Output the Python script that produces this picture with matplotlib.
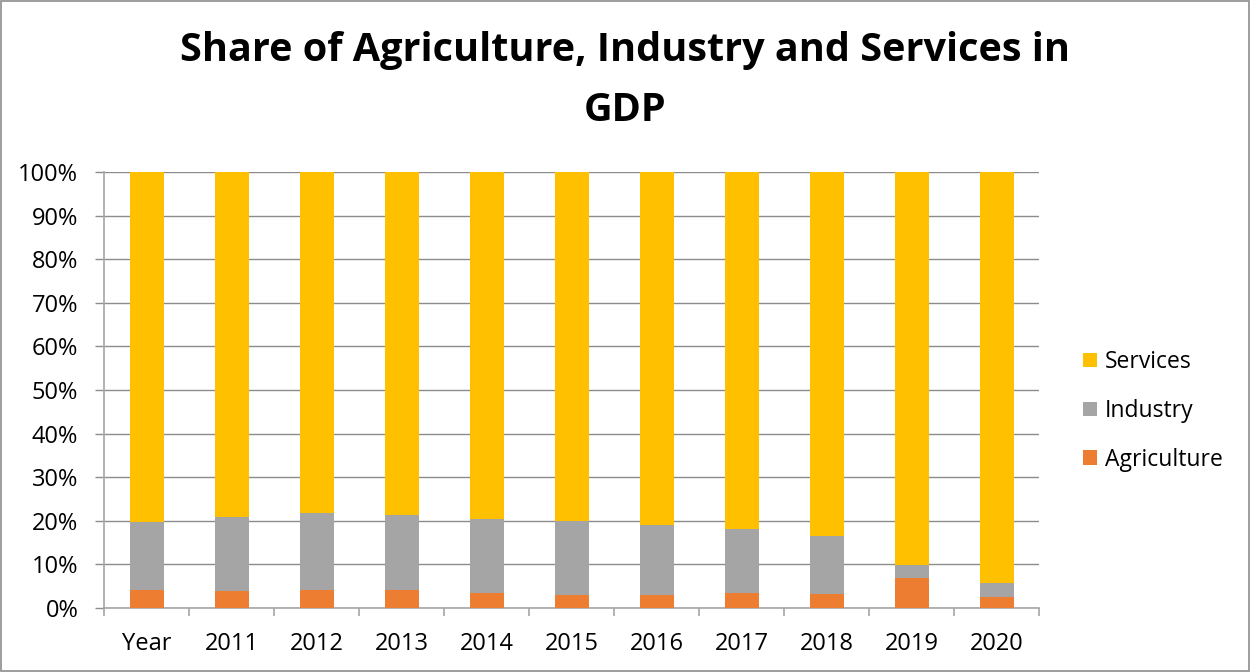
import matplotlib
matplotlib.use("Agg")
import matplotlib.pyplot as plt
from matplotlib.ticker import FuncFormatter, FixedLocator
from matplotlib.patches import Rectangle
import numpy as np

categories = ["Year", "2011", "2012", "2013", "2014", "2015", "2016", "2017", "2018", "2019", "2020"]
agriculture = [4.15, 3.85, 4.15, 4.15, 3.4, 2.9, 2.9, 3.4, 3.15, 6.85, 2.45]
industry = [15.65, 17.05, 17.65, 17.25, 17.0, 17.0, 16.15, 14.7, 13.45, 2.95, 3.25]
services = [100 - a - i for a, i in zip(agriculture, industry)]

colors = {"Services": "#FFC000", "Industry": "#A5A5A5", "Agriculture": "#ED7D31"}
font = ["Open Sans", "DejaVu Sans"]
plt.rcParams["font.family"] = font

fig = plt.figure(figsize=(12.5, 6.72), dpi=100)
fig.patches.append(Rectangle((0.0005, 0.001), 0.999, 0.998, transform=fig.transFigure,
                             fill=False, edgecolor="#8c8c8c", linewidth=1.2))
ax = fig.add_axes([0.0832, 0.0952, 0.748, 0.649])

x = np.arange(len(categories))
w = 0.4
b1 = ax.bar(x, agriculture, w, color=colors["Agriculture"], label="Agriculture", zorder=3)
b2 = ax.bar(x, industry, w, bottom=agriculture, color=colors["Industry"], label="Industry", zorder=3)
bottom3 = [a + i for a, i in zip(agriculture, industry)]
b3 = ax.bar(x, services, w, bottom=bottom3, color=colors["Services"], label="Services", zorder=3)

ax.set_xlim(-0.5, len(categories) - 0.5)
ax.set_ylim(0, 100)
ax.set_yticks(np.arange(0, 101, 10))
ax.yaxis.set_major_formatter(FuncFormatter(lambda v, p: f"{int(v)}%"))
ax.grid(axis="y", color="#8c8c8c", linewidth=1.0, zorder=0)
ax.tick_params(axis="y", length=6.5, width=1.0, color="#8c8c8c", direction="out",
               labelsize=17, pad=12)

ax.set_xticks(x)
ax.set_xticklabels(categories, fontsize=17)
ax.tick_params(axis="x", which="major", length=0, pad=17.5)
ax.xaxis.set_minor_locator(FixedLocator(np.arange(-0.5, len(categories), 1.0)))
ax.tick_params(axis="x", which="minor", length=6, color="#a6a6a6", width=1.2, direction="out")

for s in ["top", "right"]:
    ax.spines[s].set_visible(False)
for s in ["left", "bottom"]:
    ax.spines[s].set_color("#a6a6a6")
    ax.spines[s].set_linewidth(1.2)

fig.text(0.5, 0.925, "Share of Agriculture, Industry and Services in", ha="center", va="center",
         fontsize=28.5, fontweight="bold")
fig.text(0.5, 0.836, "GDP", ha="center", va="center", fontsize=28.5, fontweight="bold")

leg = ax.legend(handles=[b3, b2, b1], loc="center left", bbox_to_anchor=(1.025, 0.452),
                frameon=False, fontsize=16.5, handlelength=0.6, handleheight=0.6,
                handletextpad=0.35, labelspacing=1.08)

fig.savefig("out.png", dpi=100)
